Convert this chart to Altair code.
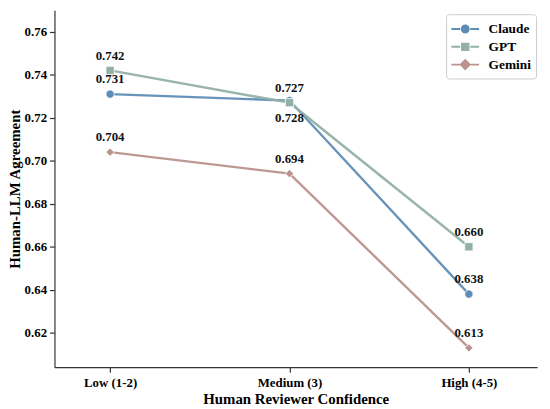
import json
import altair as alt
import pandas as pd

levels = ["Low (1-2)", "Medium (3)", "High (4-5)"]
models = ["Claude", "GPT", "Gemini"]
claude = [0.731, 0.728, 0.638]
gpt = [0.742, 0.727, 0.660]
gemini = [0.704, 0.694, 0.613]

colors = ["#5f8cb6", "#92b0a6", "#bb928d"]
shapes = ["circle", "square", "diamond"]
legend_paths = [
    "M-1.1,0H-0.08M1.08,0H2.1M0.9,0A0.4,0.4,0,1,1,0.1,0A0.4,0.4,0,1,1,0.9,0Z",
    "M-1.1,0H-0.08M1.08,0H2.1M0.13,-0.37H0.87V0.37H0.13Z",
    "M-1.1,0H-0.14M1.14,0H2.1M0.5,-0.51L1.01,0L0.5,0.51L-0.01,0Z",
]

rows = []
for m, vals in zip(models, [claude, gpt, gemini]):
    for i, (lv, v) in enumerate(zip(levels, vals)):
        rows.append({"model": m, "level": lv, "idx": i, "value": v})
df = pd.DataFrame(rows)

FONT = "Liberation Serif"
label_expr = json.dumps(levels) + "[datum.value]"

x = alt.X("idx:Q", scale=alt.Scale(domain=[-0.31, 2.38], nice=False, zero=False),
          axis=alt.Axis(values=[0, 1, 2], labelExpr=label_expr, title="Human Reviewer Confidence",
                        grid=False, ticks=True, tickSize=5, labelPadding=5, titlePadding=2))
y = alt.Y("value:Q", scale=alt.Scale(domain=[0.604, 0.770], nice=False, zero=False),
          axis=alt.Axis(values=[0.62, 0.64, 0.66, 0.68, 0.70, 0.72, 0.74, 0.76], format=".2f",
                        title="Human-LLM Agreement", grid=False, tickSize=5, labelPadding=3,
                        titlePadding=2))

cscale = alt.Scale(domain=models, range=colors)

leg = dict(title=None, orient="none", legendX=396, legendY=4,
           labelFont=FONT, labelFontWeight="bold", labelFontSize=13.5,
           labelColor="#000", symbolSize=306, labelOffset=18,
           rowPadding=0, padding=5, strokeColor="#cccccc",
           cornerRadius=3, fillColor="white", symbolStrokeWidth=2)

base = alt.Chart(df)
legend_layer = base.transform_filter("false").mark_point(
    filled=True, size=306, opacity=1, strokeWidth=2).encode(
    x=x, y=y,
    color=alt.Color("model:N", scale=cscale, legend=alt.Legend(**leg)),
    stroke=alt.Stroke("model:N", scale=cscale, legend=alt.Legend(**leg)),
    shape=alt.Shape("model:N", scale=alt.Scale(domain=models, range=legend_paths),
                    legend=alt.Legend(**leg)),
)
lines = base.mark_line(strokeWidth=2.4, opacity=0.95).encode(
    x="idx:Q", y="value:Q", color=alt.Color("model:N", scale=cscale), detail="model:N")
point_layers = [
    base.transform_filter(alt.datum.model == m).mark_point(
        filled=True, size=70, opacity=1, shape=s, color=c, stroke="white", strokeWidth=0.8
    ).encode(x="idx:Q", y="value:Q")
    for m, s, c in zip(models, shapes, colors)
]
below = "datum.model == 'Claude' && datum.idx == 1"
text_kw = dict(font=FONT, fontWeight="bold", fontSize=13, color="#111", baseline="middle")
texts_above = base.transform_filter("!(" + below + ")").mark_text(dy=-15, **text_kw).encode(
    x="idx:Q", y="value:Q", text=alt.Text("value:Q", format=".3f"))
texts_below = base.transform_filter(below).mark_text(dy=18, **text_kw).encode(
    x="idx:Q", y="value:Q", text=alt.Text("value:Q", format=".3f"))

chart = alt.layer(legend_layer, lines, *point_layers, texts_above, texts_below).properties(
    width=488, height=361, autosize=alt.AutoSizeParams(type="none"),
    padding={"left": 47, "top": 0, "right": 5, "bottom": 40},
).configure_view(stroke=None).configure_axis(
    labelFont=FONT, labelFontWeight="bold", labelFontSize=13, labelColor="#000",
    titleFont=FONT, titleFontWeight="bold", titleFontSize=15, titleColor="#000",
    domainColor="#333", domainWidth=1.2, tickColor="#333", tickWidth=1.2,
)

chart.save("out.html", embed_options={"renderer": "svg", "actions": False})
